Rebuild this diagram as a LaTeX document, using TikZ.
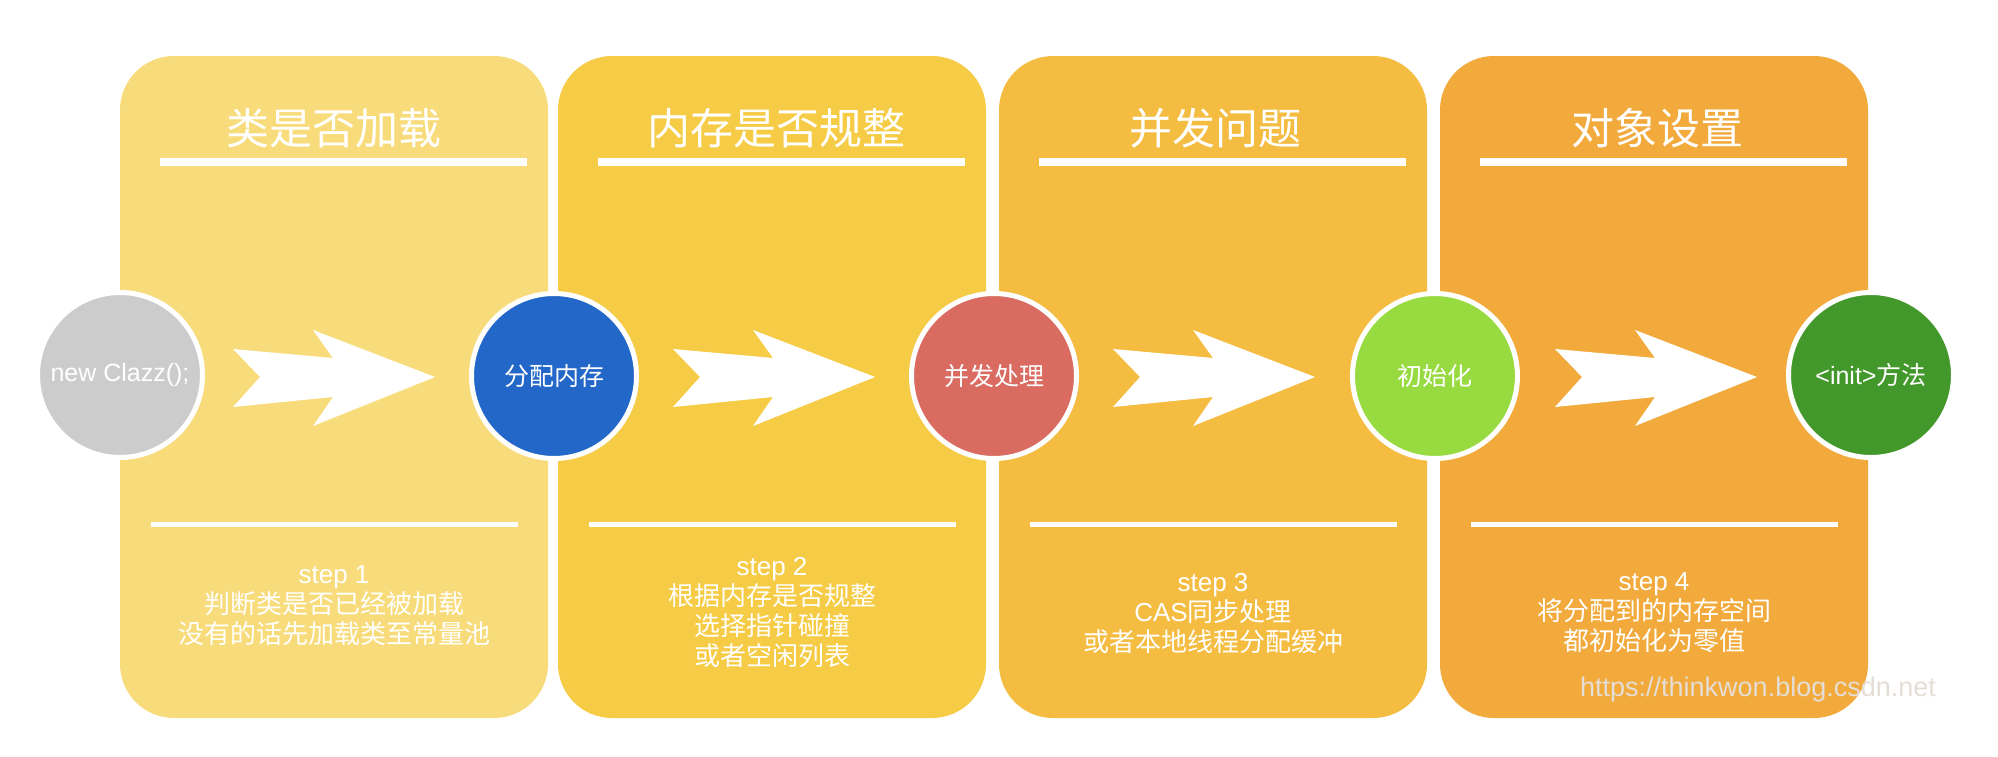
\documentclass[tikz,border=0pt]{standalone}
\usepackage{fontspec}
\setmainfont{Liberation Sans}
\newfontfamily\cjk{Noto Sans CJK SC}
\usetikzlibrary{calc}
\definecolor{pA}{HTML}{F8DC7B}
\definecolor{pB}{HTML}{F6CC46}
\definecolor{pC}{HTML}{F4BD42}
\definecolor{pD}{HTML}{F2AA3C}
\definecolor{cGray}{HTML}{CCCCCC}
\definecolor{cBlue}{HTML}{2368C8}
\definecolor{cRed}{HTML}{DA6B61}
\definecolor{cLime}{HTML}{97DB41}
\definecolor{cGreen}{HTML}{43982B}
\definecolor{wmark}{HTML}{E4DED6}
\tikzset{
  panel/.style={rectangle, rounded corners=54pt, minimum width=428pt, minimum height=662pt, inner sep=0pt, draw=none, fill=#1},
  stepcircle/.style={circle, minimum size=165pt, inner sep=0pt, fill=#1, draw=white, line width=5pt, text=white, font=\fontsize{25}{28}\selectfont},
  titletext/.style={text=white, font=\cjk\fontsize{43}{48}\selectfont},
  steptext/.style={text=white, align=center, font=\fontsize{26}{30}\selectfont},
  topline/.style={draw=white, line width=8pt},
  botline/.style={draw=white, line width=5pt},
  chevron/.pic={\fill[white] (0,-28) -- (100,-19) -- (80,-47) -- (202,0) -- (80,49) -- (100,20) -- (0,30) -- (27,0) -- cycle;}
}
\begin{document}
\begin{tikzpicture}[x=1pt, y=-1pt]
\useasboundingbox[fill=white] (0,0) rectangle (1998,756);
% panels
\node[panel=pA] (p1) at (334,387) {};
\node[panel=pB] (p2) at (772,387) {};
\node[panel=pC] (p3) at (1213,387) {};
\node[panel=pD] (p4) at (1654,387) {};
% titles
\node[titletext] (t1) at (334,128) {类是否加载};
\node[titletext] (t2) at (776,128) {内存是否规整};
\node[titletext] (t3) at (1215,128) {并发问题};
\node[titletext] (t4) at (1657,128) {对象设置};
% title lines
\foreach \i/\L in {1/120, 2/558, 3/999, 4/1440} {
  \coordinate (tla\i) at (\L+40,162);
  \coordinate (tlb\i) at (\L+407,162);
  \draw[topline] (tla\i) -- (tlb\i);
  \coordinate (bla\i) at (\L+31,524);
  \coordinate (blb\i) at (\L+398,524);
  \draw[botline] (bla\i) -- (blb\i);
}
% circles
\node[stepcircle=cGray] (c1) at (120,375) {new Clazz();};
\node[stepcircle=cBlue] (c2) at (554,376) {\cjk 分配内存};
\node[stepcircle=cRed] (c3) at (994,376) {\cjk 并发处理};
\node[stepcircle=cLime] (c4) at (1435,376) {\cjk 初始化};
\node[stepcircle=cGreen] (c5) at (1871,375) {<init>{\cjk 方法}};
% chevrons
\pic at ($(c1.center)+(113,2)$) {chevron};
\pic at ($(c2.center)+(119,1)$) {chevron};
\pic at ($(c3.center)+(119,1)$) {chevron};
\pic at ($(c4.center)+(120,1)$) {chevron};
% step texts
\node[steptext] (s1) at (334,606) {step 1\\{\cjk 判断类是否已经被加载}\\{\cjk 没有的话先加载类至常量池}};
\node[steptext] (s2) at (772,613) {step 2\\{\cjk 根据内存是否规整}\\{\cjk 选择指针碰撞}\\{\cjk 或者空闲列表}};
\node[steptext] (s3) at (1213,613) {step 3\\CAS{\cjk 同步处理}\\{\cjk 或者本地线程分配缓冲}};
\node[steptext] (s4) at (1654,613) {step 4\\{\cjk 将分配到的内存空间}\\{\cjk 都初始化为零值}};
% watermark
\node[text=wmark, font=\fontsize{27}{30}\selectfont] (wm) at (1758,690) {https://thinkwon.blog.csdn.net};
\end{tikzpicture}
\end{document}
